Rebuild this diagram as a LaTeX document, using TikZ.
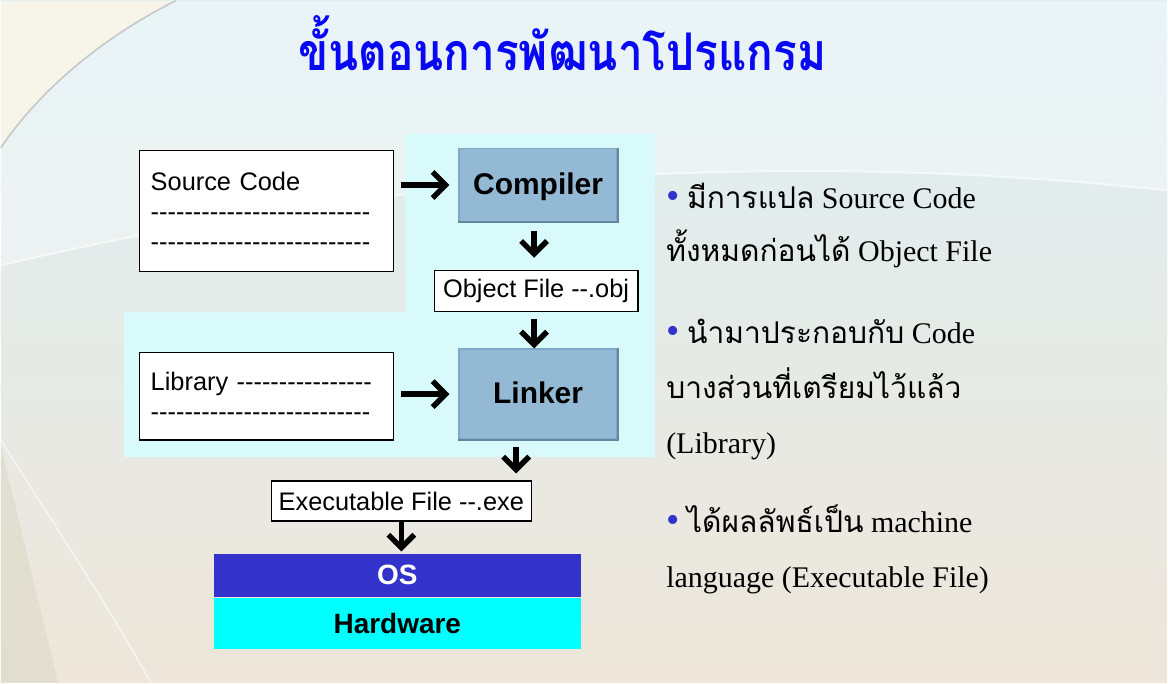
\documentclass[tikz,border=0pt]{standalone}
\usepackage{fontspec}
\setmainfont{Liberation Serif}
\setsansfont{Liberation Sans}[Ligatures=TeXOff]
\newfontfamily\thaifont[Script=Thai]{Loma}
\usetikzlibrary{arrows.meta,positioning,calc}
\definecolor{titleblue}{HTML}{0808F2}
\definecolor{panelcyan}{HTML}{D9FAFA}
\definecolor{toolblue}{HTML}{94B9D4}
\definecolor{tooledge}{HTML}{7FA7C8}
\definecolor{osblue}{HTML}{3333CC}
\definecolor{hwcyan}{HTML}{00FFFF}
\definecolor{bgtop}{HTML}{DDEFF3}
\definecolor{bgmid}{HTML}{F1F5F0}
\definecolor{bgbot}{HTML}{EEE6DA}
\definecolor{cornerbeige}{HTML}{F7F4EA}
\definecolor{edgebeige}{HTML}{DEDCCB}
\newcommand\thai[1]{{\thaifont #1}}
\newcommand\bulletdot{{\color{osblue}\fontsize{19}{19}\selectfont\textbullet}\ }

\begin{document}
\begin{tikzpicture}[x=0.5pt,y=-0.5pt,
    codebox/.style={draw,fill=white,line width=0.6pt,align=left,inner sep=5.5pt,
        font=\sffamily\fontsize{12.7}{15}\selectfont},
    filebox/.style={draw,fill=white,line width=0.6pt,inner sep=3pt,
        font=\sffamily\fontsize{12.7}{15}\selectfont},
    tool/.style={fill=toolblue,draw=tooledge,line width=0.8pt,minimum width=79pt,
        text depth=1pt,font=\sffamily\bfseries\fontsize{15}{18}\selectfont},
    layer/.style={minimum width=184pt,inner sep=0pt,
        font=\sffamily\bfseries\fontsize{14}{16}\selectfont},
    flow/.style={line width=2.7pt,-{Straight Barb[length=6.5pt,width=13pt]}},
    note/.style={anchor=base west,inner sep=0pt,font=\fontsize{15}{18}\selectfont}]
    % slide background
    \fill[top color=bgtop,middle color=bgmid,bottom color=bgbot] (0,0) rectangle (1168,683);
    \fill[white,opacity=0.35] (0,265) .. controls (400,170) and (800,150) .. (1168,190) -- (1168,0) -- (0,0) -- cycle;
    \draw[white,line width=1pt,opacity=0.6] (0,265) .. controls (400,170) and (800,150) .. (1168,190);
    \fill[cornerbeige] (0,0) -- (175,0) .. controls (95,40) and (35,95) .. (0,147) -- cycle;
    \draw[black!22,line width=0.8pt] (175,0) .. controls (95,40) and (35,95) .. (0,147);
    \fill[edgebeige,opacity=0.7] (0,447) .. controls (20,530) and (40,610) .. (57,683) -- (0,683) -- cycle;
    \draw[white,line width=0.6pt,opacity=0.7] (0,440) .. controls (50,520) and (110,610) .. (150,683);
    % cyan panel
    \fill[panelcyan] (405,133) -- (655,133) -- (655,457) -- (123,457) -- (123,312) -- (405,312) -- cycle;
    % title
    \node[anchor=base,text=titleblue,transform shape,xscale=0.85,
        font=\thaifont\bfseries\fontsize{26}{30}\selectfont] (title) at (562,70) {ขั้นตอนการพัฒนาโปรแกรม};
    % boxes
    \node[codebox,minimum width=127pt,minimum height=60.5pt,text width=116pt] (src) at (266,210.5)
        {Source Code\\--------------------------\\--------------------------};
    \node[codebox,minimum width=127pt,minimum height=44pt,text width=116pt] (lib) at (266,396)
        {Library ----------------\\--------------------------};
    \node[tool,minimum height=36.5pt] (comp) at (538,184.5) {Compiler};
    \node[tool,minimum height=45pt] (link) at (538,394) {Linker};
    \node[filebox,minimum width=102pt,minimum height=20.5pt] (obj) at (536,290.5) {Object File --.obj};
    \node[filebox,minimum width=130pt,minimum height=20pt] (exe) at (401,501) {Executable File --.exe};
    \node[layer,fill=osblue,text=white,minimum height=21.5pt] (os) at (397,575.5) {OS};
    \node[layer,fill=hwcyan,minimum height=26pt,below=0pt of os] (hw) {Hardware};
    % bevel of the tool boxes
    \foreach \t in {comp,link}
        \draw[tooledge!80!black,line width=1pt] (\t.north east) -- (\t.south east) -- (\t.south west);
    % connectors
    \draw[flow,shorten <=3.5pt,shorten >=4.5pt] (src.east |- comp.west) -- (comp.west);
    \draw[flow,shorten <=4.5pt,shorten >=6pt] ([xshift=-2pt]comp.south) -- ([xshift=-2pt]comp.south |- obj.north);
    \draw[flow,shorten <=3.5pt] ([xshift=-2pt]comp.south |- obj.south) -- ([xshift=-2pt]link.north);
    \draw[flow,shorten <=3.5pt,shorten >=4.5pt] (lib.east |- link.west) -- (link.west);
    \draw[flow,shorten <=3.5pt,shorten >=3.5pt] ([xshift=-11pt]link.south) -- ([xshift=-11pt]link.south |- exe.north);
    \draw[flow,shorten >=1pt] (exe.south) -- (exe.south |- os.north);
    % notes
    \node[note] (n1) at (666,208) {\bulletdot\thai{มีการแปล} Source Code};
    \node[note] (n2) at (666,261) {\thai{ทั้งหมดก่อนได้} Object File};
    \node[note] (n3) at (666,343) {\bulletdot\thai{นำมาประกอบกับ} Code};
    \node[note] (n4) at (666,398) {\thai{บางส่วนที่เตรียมไว้แล้ว}};
    \node[note] (n5) at (666,453) {(Library)};
    \node[note] (n6) at (666,533) {\bulletdot\thai{ได้ผลลัพธ์เป็น} machine};
    \node[note] (n7) at (666,588) {language (Executable File)};
\end{tikzpicture}
\end{document}
